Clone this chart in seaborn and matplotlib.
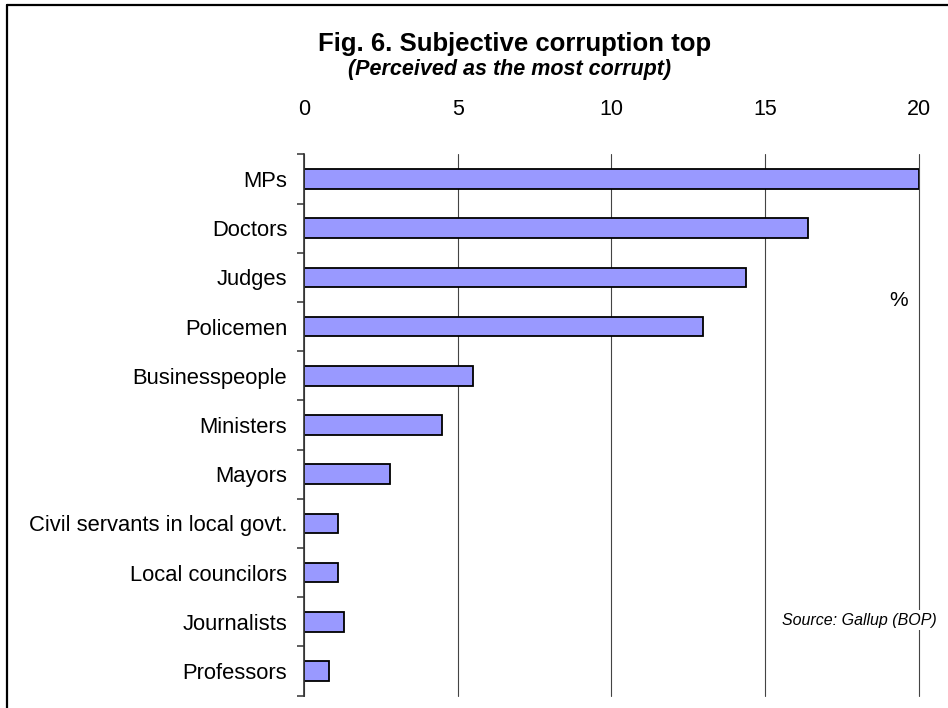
import matplotlib
matplotlib.use("Agg")
import matplotlib.pyplot as plt
from matplotlib.lines import Line2D
from matplotlib.ticker import FixedLocator
import pandas as pd
import seaborn as sns

# Share of respondents naming each group as the most corrupt (%)
categories = [
    "MPs", "Doctors", "Judges", "Policemen", "Businesspeople", "Ministers",
    "Mayors", "Civil servants in local govt.", "Local councilors",
    "Journalists", "Professors",
]
shares = [20.0, 16.4, 14.4, 13.0, 5.5, 4.5, 2.8, 1.1, 1.1, 1.3, 0.8]
x_ticks = [0, 5, 10, 15, 20]

title = "Fig. 6. Subjective corruption top"
subtitle = "(Perceived as the most corrupt)"
unit_label = "%"
source_note = "Source: Gallup (BOP)"

sns.set_theme(style="white")
plt.rcParams["font.family"] = ["Liberation Sans", "DejaVu Sans"]

W, H = 948, 708
fig = plt.figure(figsize=(W / 100, H / 100), dpi=100)
fig.patch.set_facecolor("white")

left, right, top, bottom = 304, 918.5, 154.3, 695.7
ax = fig.add_axes([left / W, 1 - bottom / H, (right - left) / W, (bottom - top) / H])

df = pd.DataFrame({"group": categories, "share": shares})
sns.barplot(
    data=df, x="share", y="group", orient="h", color="#9999FF",
    saturation=1, width=0.4, edgecolor="black", linewidth=1.3, ax=ax,
)

ax.set_xlim(0, 20)
ax.set_ylim(len(categories) - 0.5, -0.5)
ax.set_xlabel("")
ax.set_ylabel("")

# value axis along the top, no tick marks
ax.set_xticks(x_ticks)
ax.set_xticklabels([str(t) for t in x_ticks])
ax.xaxis.tick_top()
ax.tick_params(axis="x", which="both", length=0, pad=25, labelsize=15.5,
               labelcolor="black", top=True, bottom=False,
               labeltop=True, labelbottom=False)

# category labels, with short marks between categories
ax.tick_params(axis="y", which="major", length=0, pad=12, labelsize=15.8,
               labelcolor="black", left=True)
boundaries = [i - 0.5 for i in range(len(categories) + 1)]
ax.yaxis.set_minor_locator(FixedLocator(boundaries))
ax.tick_params(axis="y", which="minor", length=5, width=1.1,
               color="#333333", direction="out", left=True)

ax.set_axisbelow(True)
ax.grid(axis="x", color="#444444", linewidth=0.8)
ax.grid(axis="y", visible=False)
for gl in ax.get_xgridlines():
    gl.set_clip_on(False)

for side in ["top", "right", "bottom"]:
    ax.spines[side].set_visible(False)
ax.spines["left"].set_color("#333333")
ax.spines["left"].set_linewidth(1.2)

# titles and notes
fig.text(515 / W, 1 - 44 / H, title, ha="center", va="center",
         fontsize=18.5, fontweight="bold", color="black")
fig.text(510 / W, 1 - 70 / H, subtitle, ha="center", va="center",
         fontsize=15.5, fontweight="bold", style="italic", color="black")
fig.text(899 / W, 1 - 300 / H, unit_label, ha="center", va="center",
         fontsize=15, color="black")
fig.text(937 / W, 1 - 620 / H, source_note, ha="right", va="center",
         fontsize=11.5, style="italic", color="black",
         bbox=dict(facecolor="white", edgecolor="none", pad=2))

# frame on the left and top edges
fig.add_artist(Line2D([6.7 / W, 6.7 / W], [0, 1 - 4.7 / H],
                      transform=fig.transFigure, color="black", linewidth=1.6))
fig.add_artist(Line2D([6.7 / W, 1], [1 - 4.7 / H, 1 - 4.7 / H],
                      transform=fig.transFigure, color="black", linewidth=1.6))

fig.savefig("out.png", dpi=100)
